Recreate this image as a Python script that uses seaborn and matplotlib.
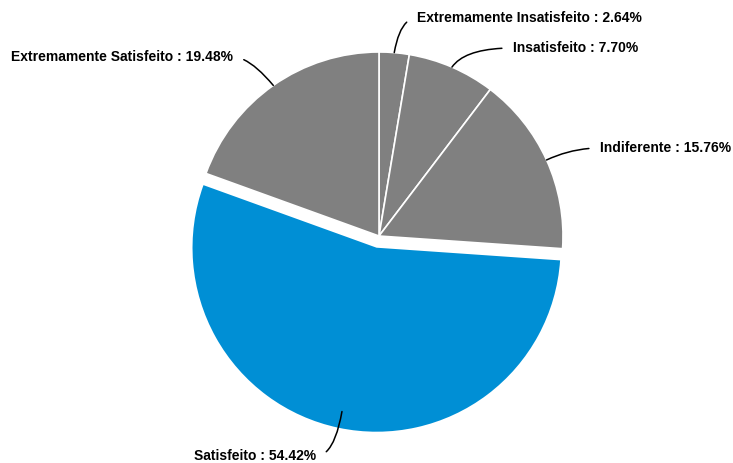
import matplotlib
matplotlib.use("Agg")
import matplotlib.pyplot as plt
import seaborn as sns
import numpy as np

categories = ["Extremamente Insatisfeito", "Insatisfeito", "Indiferente",
              "Satisfeito", "Extremamente Satisfeito"]
values = [2.64, 7.70, 15.76, 54.42, 19.48]
colors = ["#808080", "#808080", "#808080", "#008fd5", "#808080"]
explode = [0, 0, 0, 0.065, 0]

sns.set_theme(style="white")
plt.rcParams["font.family"] = ["Liberation Sans", "DejaVu Sans"]

W, H = 733, 463
fig = plt.figure(figsize=(W / 100, H / 100), dpi=100)
ax = fig.add_axes([0, 0, 1, 1])
ax.set_axis_off()

cx, cy, R = 379, 236, 184
def d(px, py):
    return ((px - cx) / R, (cy - py) / R)

wedges, _ = ax.pie(values, colors=colors, startangle=90, counterclock=False,
                   explode=explode, radius=1.0,
                   wedgeprops=dict(edgecolor="white", linewidth=1.2))
wedges[3].set_edgecolor("none")

x0, _ = d(0, 0); x1, _ = d(W, 0)
_, y0 = d(0, H); _, y1 = d(0, 0)
ax.set_xlim(x0, x1)
ax.set_ylim(y0, y1)

# label positions (pixel coords of text anchor), alignment, arrival angle at slice
text_pos = [(417, 18, "left", 80), (513, 48, "left", 55), (600, 148, "left", 25),
            (316, 456, "right", 80), (233, 57, "right", -50)]

total = sum(values)
cum = 0.0
for i, (cat, v) in enumerate(zip(categories, values)):
    mid = (cum + v / 2) / total * 360.0
    cum += v
    ang = np.deg2rad(90 - mid)
    ox = explode[i] * np.cos(ang)
    oy = explode[i] * np.sin(ang)
    rr = 0.91 if i == 3 else 1.0
    ex, ey = ox + rr * np.cos(ang), oy + rr * np.sin(ang)
    tx, ty, ha, angB = text_pos[i]
    tdx, tdy = d(tx, ty)
    ax.annotate(f"{cat} : {v:.2f}%", xy=(ex, ey), xytext=(tdx, tdy),
                ha=ha, va="center", fontsize=10, fontweight="bold", color="black",
                arrowprops=dict(arrowstyle="-", color="black", lw=1.1,
                                patchA=None, shrinkA=8, shrinkB=0,
                                relpos=(0, 0.5) if ha == "left" else (1, 0.5),
                                connectionstyle=f"angle3,angleA=0,angleB={angB}"))

fig.savefig("out.png", dpi=100)
